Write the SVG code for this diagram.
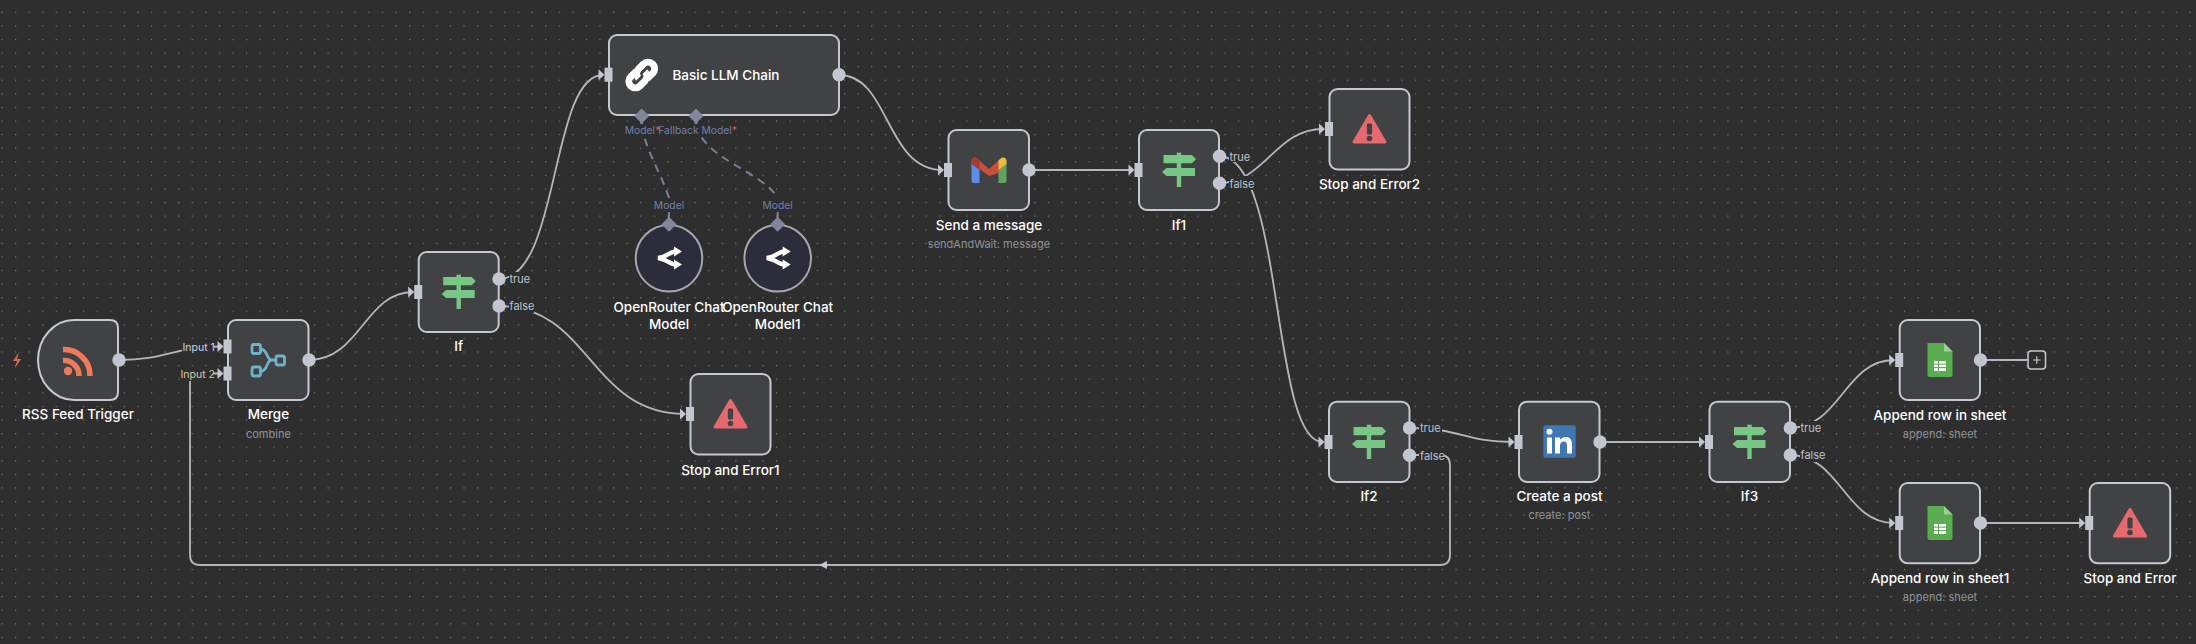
<svg xmlns="http://www.w3.org/2000/svg" xmlns:xlink="http://www.w3.org/1999/xlink" width="2196" height="644" viewBox="0 0 2196 644">
<style>
text{font-family:Inter,"Noto Sans","Liberation Sans",sans-serif}
.node{fill:#414244;stroke:#c6c8d0;stroke-width:2}
.title{fill:#fff;font-size:13.500px;font-weight:500;text-anchor:middle}
.sub{fill:#8f9298;font-size:11px;text-anchor:middle}
.port{fill:#bcc4d2;font-size:11px}
.mdl{fill:#6f80b0;font-size:10.300px}
.edge{fill:none;stroke:#b4b6be;stroke-width:1.800}
.dash{fill:none;stroke:#7d7f95;stroke-width:2;stroke-dasharray:8 6}
.bg{fill:#2e2e2e}
.pin{fill:#c3c6d0}
.dia{fill:#83859b}
</style>
<defs>
<pattern id="grid" x="1.4" y="11.7" width="13.59" height="13.59" patternUnits="userSpaceOnUse"><rect width="1.2" height="1.2" fill="#77797c"/></pattern>
<g id="in"><rect x="-4.500" y="-7" width="8" height="14" class="pin"/><path d="M-10.500-5.500-4.500 0-10.500 5.500Z" class="pin"/></g>
<circle id="out" r="6.700" class="pin"/>
<path id="di" d="M0-7.500 7.500 0 0 7.500-7.500 0Z" class="dia"/>
<g id="sign" fill="#78c785">
<rect x="-2.200" y="-17.300" width="4.400" height="4"/><rect x="-2.200" y="-7" width="4.400" height="6"/><rect x="-2.200" y="6" width="4.400" height="11"/>
<path d="M-15.500-15H13L17-10.800 13-6.700H-15.500Z"/><path d="M16-2H-12.500L-17 2-12.500 6H16Z"/>
</g>
<g id="warn"><path d="M0-13.500 15.500 13H-15.500Z" fill="#e5696f" stroke="#e5696f" stroke-width="3" stroke-linejoin="round"/><rect x="-2.600" y="-5.500" width="5.200" height="11" rx="1.500" fill="#414244"/><circle cy="9.500" r="2.800" fill="#414244"/></g>
<g id="sheet"><path d="M-12.500-17H4L12.500-8.500V15Q12.500 17 10.500 17H-10.500Q-12.500 17-12.500 15Z" fill="#5aac50"/><path d="M4-17 12.500-8.500H4Z" fill="#9ccf95"/><path d="M-6 1H6V11H-6Z" fill="#fff"/><path d="M-6 4.200H6M-6 7.600H6M-1.500 1V11" stroke="#5aac50" stroke-width="1"/></g>
<g id="ornt"><path d="M6-6.500C2-6.500-3-1-11 0-3 1 2 6.500 6 6.500" fill="none" stroke="#fff" stroke-width="4.500"/><path d="M5-11.500 13-6.500 5-1.500ZM5 1.500 13 6.500 5 11.500Z" fill="#fff"/></g>
</defs>
<rect width="2196" height="644" fill="#2e2e2e"/>
<rect width="2196" height="644" fill="url(#grid)"/>

<g id="connectors">
<path class="edge" d="M119 360C165 360 175 347 218 346.500"/>
<path class="edge" d="M309 360C360 360 365 292 413 292"/>
<path class="edge" d="M499 279C560 279 550 75 603 75"/>
<path class="edge" d="M499 306C590 306 590 414 685 414"/>
<path class="edge" d="M839 75C890 75 885 170 943 170"/>
<path class="edge" d="M1029 170H1133"/>
<path class="edge" d="M1219 156C1285 156 1270 442 1323 442"/>
<path class="edge" d="M1219 183C1265 183 1275 129 1323 129"/>
<path class="edge" d="M1409 428C1460 428 1465 442 1513 442"/>
<path class="edge" d="M1600 442H1703"/>
<path class="edge" d="M1790 428C1840 428 1845 360 1894 360"/>
<path class="edge" d="M1790 455C1840 455 1845 523 1894 523"/>
<path class="edge" d="M1980 360H2028"/>
<path class="edge" d="M1980 523H2084"/>
<path class="edge" d="M1409 455H1440Q1450 455 1450 465V555Q1450 565 1440 565H200Q190 565 190 555V383.500Q190 373.500 200 373.500H218"/>
<path d="M819 565 827 561V569Z" fill="#c3c6d0"/>
<path class="dash" d="M642 125C645 150 660 170 669 198"/>
<path class="dash" d="M696 125C705 160 760 170 778 198"/>
</g>

<g id="rss-feed-trigger">
<path class="node" d="M74 320H110Q118 320 118 328V392Q118 400 110 400H74A36 40 0 0 1 38 360A36 40 0 0 1 74 320Z"/>
<g fill="none" stroke="#ee7a5c" stroke-width="5.500"><path d="M63 349.500A26 26 0 0 1 90 376"/><path d="M63 360.500A15 15 0 0 1 79 376"/></g>
<circle cx="68" cy="371" r="4.200" fill="#ee7a5c"/>
<use href="#out" x="119" y="360"/>
<path d="M19 352 13 361H17L15 368 21 359H17Z" fill="#d9694e"/>
<text class="title" x="78" y="419">RSS Feed Trigger</text>
</g>

<g id="merge">
<rect class="node" x="228" y="320" width="80.500" height="80" rx="8"/>
<g fill="none" stroke="#6fb3c9" stroke-width="2.800"><rect x="252" y="344.500" width="8.500" height="9" rx="2"/><rect x="252" y="367" width="8.500" height="9" rx="2"/><rect x="276" y="356" width="8.500" height="9" rx="2"/>
<path d="M260.500 349C268 349 266 360 272 360H276M260.500 371.500C268 371.500 266 360 272 360"/></g>
<rect class="bg" x="182" y="339" width="32" height="15"/><rect class="bg" x="180" y="366" width="33" height="15"/>
<use href="#in" x="228" y="346.500"/><use href="#in" x="228" y="373.500"/><use href="#out" x="309" y="360"/>
<text x="182.500" y="350.500" style="font-size:10.500px;fill:#cdd5e0">Input 1</text>
<text x="180.500" y="377.500" style="font-size:10.500px;fill:#d8c9ac">Input 2</text>
<text class="title" x="268.400" y="419">Merge</text><text class="sub" x="268.400" y="437.500">combine</text>
</g>

<g id="if">
<rect class="node" x="418.700" y="252" width="80" height="80" rx="8"/>
<use href="#sign" x="458.700" y="292"/><use href="#in" x="418.700" y="292"/>
<rect class="bg" x="509" y="272" width="23" height="14"/><rect class="bg" x="509" y="299" width="25" height="14"/>
<use href="#out" x="499" y="279"/><use href="#out" x="499" y="306"/>
<text class="port" x="509.500" y="283">true</text><text class="port" x="509.500" y="310">false</text>
<text class="title" x="458.700" y="351">If</text>
</g>

<g id="basic-llm-chain">
<rect class="node" x="609" y="35" width="230" height="80" rx="8"/>
<g transform="translate(641.700 75) rotate(-45)" fill="none" stroke="#fff" stroke-width="7"><path d="M-1-6.500H-9A6.500 6.500 0 0 0-9 6.500H-2A6.500 6.500 0 0 0 4.500 0"/><path d="M1 6.500H9A6.500 6.500 0 0 0 9-6.500H2A6.500 6.500 0 0 0-4.500 0"/></g>
<use href="#in" x="609" y="74.700"/><use href="#out" x="839" y="74.700"/>
<text class="title" x="726" y="80">Basic LLM Chain</text>
<rect class="bg" x="624" y="123" width="112" height="14"/>
<path d="M641.700 120V124M696 120V124" stroke="#83859b" stroke-width="3"/>
<use href="#di" x="641.700" y="116"/><use href="#di" x="696" y="116"/>
<text class="mdl" x="624.800" y="134">Model<tspan fill="#d9534f">*</tspan></text>
<text class="mdl" x="658.300" y="134">Fallback Model<tspan fill="#d9534f">*</tspan></text>
</g>

<g id="openrouter-chat-model">
<rect class="bg" x="653" y="198" width="32" height="14"/>
<circle cx="669" cy="258.300" r="33.300" fill="#2c2c3a" stroke="#a8a8ac" stroke-width="2"/>
<use href="#ornt" x="669" y="258"/><use href="#di" x="669" y="224.300"/>
<path d="M669 212V218" stroke="#83859b" stroke-width="2"/>
<text class="mdl" x="669" y="209" text-anchor="middle">Model</text>
<text class="title" x="669" y="312">OpenRouter Chat</text><text class="title" x="669" y="328.500">Model</text>
</g>

<g id="openrouter-chat-model1">
<rect class="bg" x="761" y="198" width="32" height="14"/>
<circle cx="777.700" cy="258.300" r="33.300" fill="#2c2c3a" stroke="#a8a8ac" stroke-width="2"/>
<use href="#ornt" x="777.700" y="258"/><use href="#di" x="777.700" y="224.300"/>
<path d="M777.700 212V218" stroke="#83859b" stroke-width="2"/>
<text class="mdl" x="777.700" y="209" text-anchor="middle">Model</text>
<text class="title" x="777.700" y="312">OpenRouter Chat</text><text class="title" x="777.700" y="328.500">Model1</text>
</g>

<g id="stop-and-error1">
<rect class="node" x="690.500" y="374" width="80" height="80.500" rx="8"/>
<use href="#warn" x="730.500" y="414"/><use href="#in" x="690.500" y="414"/>
<text class="title" x="730.400" y="474.500">Stop and Error1</text>
</g>

<g id="send-a-message">
<rect class="node" x="948.500" y="130" width="80.500" height="80" rx="8"/>
<g transform="translate(989 170)">
<path d="M-17.500-9V11Q-17.500 13-15.500 13H-9.500V-5Z" fill="#5a8ce8"/>
<path d="M17.500-9V11Q17.500 13 15.500 13H9.500V-5Z" fill="#5fa35f"/>
<path d="M-17.500-8Q-17.500-13-13-12.500L0-1 13-12.500 9.500 3 0 6-9.500-1Z" fill="#c9503f"/>
<path d="M-17.500-9Q-17.500-13-13-12.500L-9.500-9.500V0L-17.500-6Z" fill="#a93a2e"/>
<path d="M9.500-9.500 13-12.500Q17.500-13 17.500-9V-6L9.500 0Z" fill="#edbb3e"/>
</g>
<use href="#in" x="948.500" y="170"/><use href="#out" x="1029" y="170"/>
<text class="title" x="989" y="229.500">Send a message</text><text class="sub" x="989" y="247.500">sendAndWait: message</text>
</g>

<g id="if1">
<rect class="node" x="1139" y="130" width="80" height="80" rx="8"/>
<use href="#sign" x="1179" y="170"/><use href="#in" x="1139" y="170"/>
<rect class="bg" x="1229" y="149" width="20" height="13"/><rect class="bg" x="1229" y="176" width="24" height="14"/>
<use href="#out" x="1219.500" y="156.300"/><use href="#out" x="1219.500" y="183.300"/>
<text class="port" x="1229.500" y="160.500">true</text><text class="port" x="1229.500" y="187.500">false</text>
<text class="title" x="1179" y="229.500">If1</text>
</g>

<g id="stop-and-error2">
<rect class="node" x="1329.500" y="89" width="80" height="80.500" rx="8"/>
<use href="#warn" x="1369.500" y="129"/><use href="#in" x="1329.500" y="129"/>
<text class="title" x="1369.500" y="188.500">Stop and Error2</text>
</g>

<g id="if2">
<rect class="node" x="1329" y="401.700" width="80.500" height="80.300" rx="8"/>
<use href="#sign" x="1369" y="442"/><use href="#in" x="1329" y="442"/>
<rect class="bg" x="1419" y="421" width="23" height="14"/><rect class="bg" x="1419" y="448" width="25" height="14"/>
<use href="#out" x="1409.500" y="428"/><use href="#out" x="1409.500" y="455.300"/>
<text class="port" x="1420" y="432">true</text><text class="port" x="1420" y="459.500">false</text>
<text class="title" x="1369" y="501">If2</text>
</g>

<g id="create-a-post">
<rect class="node" x="1519" y="401.700" width="80.500" height="80.300" rx="8"/>
<rect x="1543.300" y="425.300" width="32.400" height="32.400" rx="2" fill="#3f77b3"/>
<g fill="#fff"><rect x="1547" y="437.500" width="5" height="16"/><circle cx="1549.500" cy="431.800" r="3"/><path d="M1555 437.500H1560V440C1561 438.300 1563 437 1565.500 437 1570.500 437 1572 440.300 1572 445V453.500H1567V446C1567 443.500 1566.500 441.500 1564 441.500 1561.500 441.500 1560 443 1560 446V453.500H1555Z"/></g>
<use href="#in" x="1519" y="442"/><use href="#out" x="1600" y="442"/>
<text class="title" x="1559.500" y="501">Create a post</text><text class="sub" x="1559.500" y="519">create: post</text>
</g>

<g id="if3">
<rect class="node" x="1709.500" y="401.700" width="80.500" height="80.300" rx="8"/>
<use href="#sign" x="1749.500" y="442"/><use href="#in" x="1709.500" y="442"/>
<rect class="bg" x="1800" y="421" width="23" height="14"/><rect class="bg" x="1800" y="448" width="25" height="14"/>
<use href="#out" x="1790.300" y="428"/><use href="#out" x="1790.300" y="455"/>
<text class="port" x="1800.500" y="432">true</text><text class="port" x="1800.500" y="459">false</text>
<text class="title" x="1749.500" y="501">If3</text>
</g>

<g id="append-row-in-sheet">
<rect class="node" x="1899.700" y="320" width="80.300" height="80" rx="8"/>
<use href="#sheet" x="1940" y="360"/><use href="#in" x="1899.700" y="360"/><use href="#out" x="1980.500" y="360"/>
<text class="title" x="1940" y="419.500">Append row in sheet</text><text class="sub" x="1940" y="437.500">append: sheet</text>
</g>

<g id="add-node">
<rect x="2028" y="351" width="17.500" height="18" rx="3" fill="#2e2e2e" stroke="#c6c8d0" stroke-width="1.500"/>
<path d="M2033 360H2040.500M2036.800 356.300V363.700" stroke="#c6c8d0" stroke-width="1.200"/>
</g>

<g id="append-row-in-sheet1">
<rect class="node" x="1899.700" y="483" width="80.300" height="80.300" rx="8"/>
<use href="#sheet" x="1940" y="523"/><use href="#in" x="1899.700" y="523"/><use href="#out" x="1980.500" y="523"/>
<text class="title" x="1940" y="582.500">Append row in sheet1</text><text class="sub" x="1940" y="600.500">append: sheet</text>
</g>

<g id="stop-and-error">
<rect class="node" x="2089.700" y="483" width="80.500" height="80.300" rx="8"/>
<use href="#warn" x="2130" y="523"/><use href="#in" x="2089.700" y="523"/>
<text class="title" x="2130" y="582.500">Stop and Error</text>
</g>
</svg>
